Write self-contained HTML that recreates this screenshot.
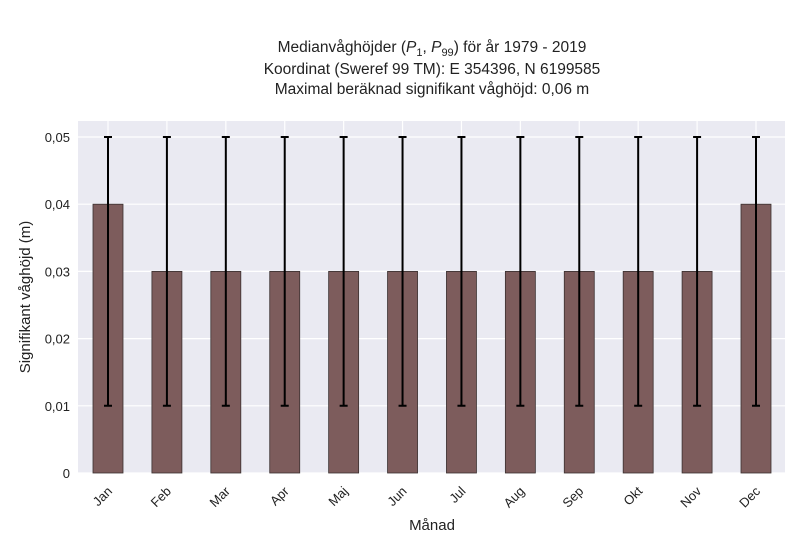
<!DOCTYPE html>
<html><head><meta charset="utf-8"><style>
body{margin:0;background:#fff;font-family:"Liberation Sans","DejaVu Sans",sans-serif;}
</style></head><body>
<svg id="c" width="800" height="550" xmlns="http://www.w3.org/2000/svg">
<text x="432" y="52" text-anchor="middle" font-size="15.5" fill="#222">Medianvåghöjder (<tspan font-style="italic">P</tspan><tspan font-size="11" dy="4">1</tspan><tspan dy="-4">, </tspan><tspan font-style="italic">P</tspan><tspan font-size="11" dy="4">99</tspan><tspan dy="-4">) för år 1979 - 2019</tspan></text>
<text x="432" y="74" text-anchor="middle" font-size="15.5" fill="#222">Koordinat (Sweref 99 TM): E 354396, N 6199585</text>
<text x="432" y="94" text-anchor="middle" font-size="15.5" fill="#222">Maximal beräknad signifikant våghöjd: 0,06 m</text>
<rect x="78" y="121" width="707" height="352" fill="#eaeaf2"/>
<g id="g"></g>
<text x="432" y="530" text-anchor="middle" font-size="15" fill="#222">Månad</text>
<text transform="translate(30,297) rotate(-90)" text-anchor="middle" font-size="15" fill="#222">Signifikant våghöjd (m)</text>
</svg>
<script>
const months=["Jan","Feb","Mar","Apr","Maj","Jun","Jul","Aug","Sep","Okt","Nov","Dec"];
const median=[0.04,0.03,0.03,0.03,0.03,0.03,0.03,0.03,0.03,0.03,0.03,0.04];
const p1=[0.01,0.01,0.01,0.01,0.01,0.01,0.01,0.01,0.01,0.01,0.01,0.01];
const p99=[0.05,0.05,0.05,0.05,0.05,0.05,0.05,0.05,0.05,0.05,0.05,0.05];
const yTicks=[0,0.01,0.02,0.03,0.04,0.05];
const yLabels=["0","0,01","0,02","0,03","0,04","0,05"];
const NS="http://www.w3.org/2000/svg";
const g=document.getElementById('g');
const y=v=>473-v*6720;
const x=i=>108+i*(648/11);
function mk(t,a){const e=document.createElementNS(NS,t);for(const k in a)e.setAttribute(k,a[k]);g.appendChild(e);return e;}
yTicks.forEach((t,i)=>{
 const l=mk('line',{x1:78,x2:785,y1:y(t),y2:y(t),stroke:'#fff','stroke-width':1.2});
 
 
 const tx=mk('text',{x:70,y:y(t)+5,'text-anchor':'end','font-size':13,fill:'#222'});
 tx.textContent=yLabels[i];
 
 
});
months.forEach((m,i)=>{
 const l=mk('line',{x1:x(i),x2:x(i),y1:121,y2:473,stroke:'#fff','stroke-width':1.2});
 
 
});
months.forEach((m,i)=>{
 const b=mk('rect',{x:x(i)-15,y:y(median[i]),width:30,height:473-y(median[i]),fill:'#7d5c5c',stroke:'#3a3030','stroke-width':0.8});
 
 
 const e=mk('path',{d:`M${x(i)},${y(p1[i])}V${y(p99[i])}M${x(i)-4},${y(p1[i])}h8M${x(i)-4},${y(p99[i])}h8`,stroke:'#000','stroke-width':2,fill:'none'});
 
 
 const t=mk('text',{transform:`translate(${x(i)+5},${492}) rotate(-45)`,'text-anchor':'end','font-size':13,fill:'#222'});
 t.textContent=m;
 
 
});
</script>
</body></html>
